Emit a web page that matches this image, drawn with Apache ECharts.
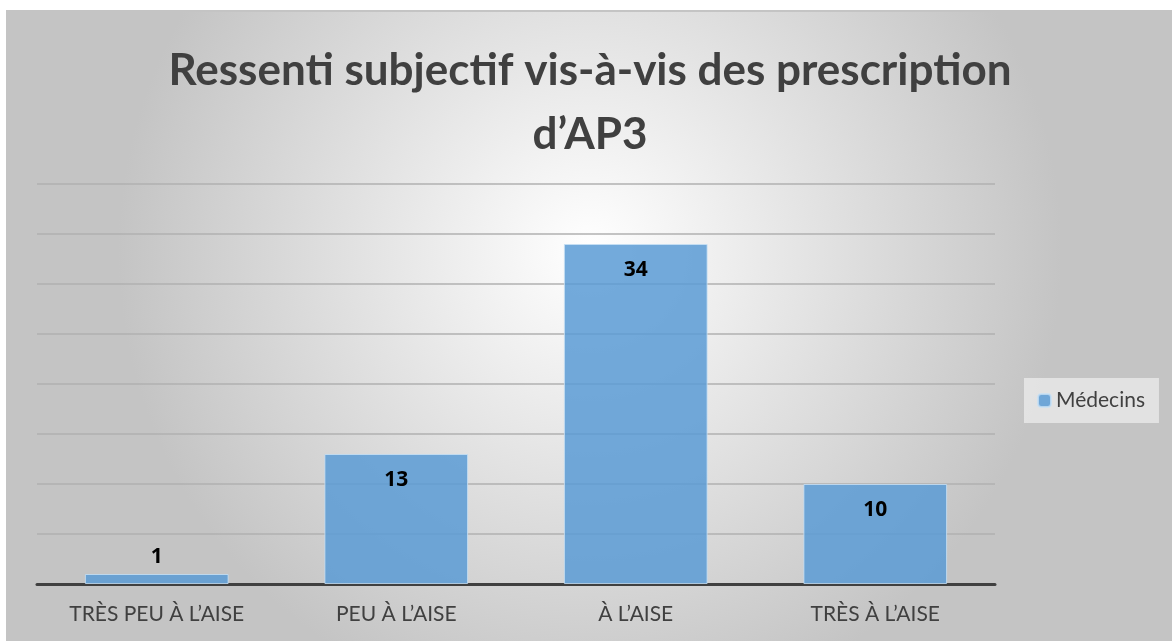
<!DOCTYPE html>
<html>
<head>
<meta charset="utf-8">
<script src="https://cdn.jsdelivr.net/npm/echarts@6/dist/echarts.min.js"></script>
<style>
  html, body { margin: 0; padding: 0; background: #fff; }
  #main {
    position: absolute; left: 6px; top: 10px;
    width: 1166px; height: 631px;
    border-top: 2px solid #c4c4c4; border-left: 2px solid #c4c4c4;
    box-sizing: border-box;
  }
</style>
</head>
<body>
<div id="main"></div>
<script>
// données
const categories = ["TRÈS PEU À L’AISE", "PEU À L’AISE", "À L’AISE", "TRÈS À L’AISE"];
const medecins = [1, 13, 34, 10];
const seriesName = "Médecins";

const chart = echarts.init(document.getElementById("main"));

const option = {
  backgroundColor: {
    type: "radial", x: 0.5, y: 0.38, r: 0.75,
    colorStops: [
      { offset: 0, color: "#ffffff" },
      { offset: 1, color: "#c4c4c4" },
    ],
  },
  title: {
    text: "Ressenti subjectif vis-à-vis des prescription\nd’AP3",
    left: "center",
    top: 22,
    textStyle: {
      fontFamily: "Lato",
      fontWeight: "bold",
      fontSize: 44,
      lineHeight: 64,
      color: "#404040",
    },
  },
  legend: {
    orient: "vertical",
    left: 1016,
    top: 366,
    padding: [12, 14, 12, 13],
    backgroundColor: "rgba(230,230,230,0.9)",
    itemWidth: 13,
    itemHeight: 13,
    itemGap: 6,
    textStyle: { fontFamily: "Lato", fontSize: 21, color: "#404040" },
    data: [seriesName],
  },
  grid: { left: 29, right: 177, top: 172, bottom: 57 },
  xAxis: {
    type: "category",
    data: categories,
    axisLine: { lineStyle: { color: "#404040", width: 3 } },
    axisTick: { show: false },
    axisLabel: {
      margin: 20,
      fontFamily: "Lato",
      fontSize: 21,
      color: "#404040",
    },
  },
  yAxis: {
    type: "value",
    min: 0,
    max: 40,
    interval: 5,
    axisLabel: { show: false },
    axisLine: { show: false },
    axisTick: { show: false },
    splitLine: { lineStyle: { color: "#b0b0b0", width: 1.5 } },
  },
  series: [
    {
      name: seriesName,
      type: "bar",
      barWidth: "60%",
      data: medecins.map((v) => ({
        value: v,
        label: { position: v < 3 ? "top" : "insideTop", distance: v < 3 ? 6 : 16 },
      })),
      itemStyle: {
        color: "rgba(91,155,213,0.85)",
        borderColor: "rgba(200,225,245,0.8)",
        borderWidth: 1,
      },
      label: {
        show: true,
        fontFamily: "Open Sans",
        fontWeight: "bold",
        fontSize: 21,
        color: "#000",
      },
    },
  ],
};

chart.setOption(option);
</script>
</body>
</html>
